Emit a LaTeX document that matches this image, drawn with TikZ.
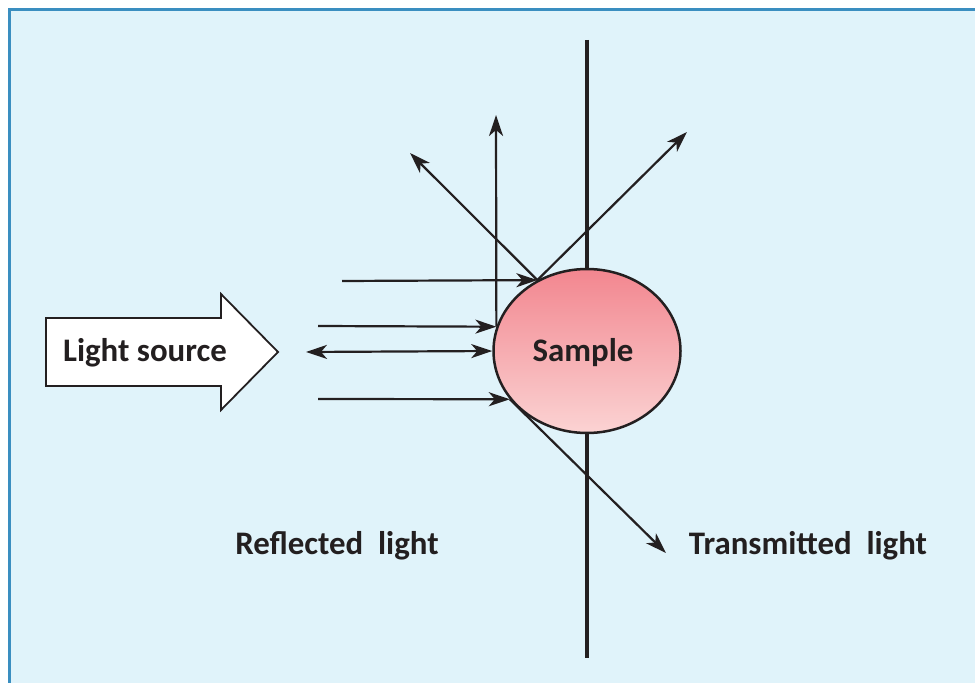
\documentclass[tikz,border=0pt]{standalone}
\usepackage{fontspec}
\setmainfont{Carlito}
\usepackage{tikz}
\usetikzlibrary{shapes.geometric,arrows.meta}

\definecolor{panelblue}{HTML}{E0F3FA}
\definecolor{frameblue}{HTML}{3A8EC0}
\definecolor{inkblack}{HTML}{231F20}
\definecolor{sampletop}{HTML}{F2868F}
\definecolor{samplebottom}{HTML}{FBD3D3}

\tikzset{
    ray/.style={draw=inkblack, line width=2.2bp, -{Stealth[length=21bp,width=14bp,inset=6bp]}},
    caption/.style={text=inkblack, font=\bfseries\fontsize{33}{35}\selectfont, inner sep=0pt},
}

\begin{document}
\begin{tikzpicture}[x=1bp,y=-1bp]
            \useasboundingbox (0,0) rectangle (975,683);
            \fill[white] (0,0) rectangle (975,683);
            \draw[frameblue, fill=panelblue, line width=3bp] (9.5,9.5) rectangle (990,700);

            % sample holder
            \draw[inkblack, line width=4.5bp] (587,40) -- (587,658);
            \node[ellipse, draw=inkblack, line width=2.5bp, minimum width=187bp, minimum height=164bp,
                  top color=sampletop, bottom color=samplebottom] (sample) at (587,351) {};
            \node[caption] (samplename) at (583,353) {Sample};

            % light source
            \draw[inkblack, fill=white, line width=1.8bp]
                (46,318) -- (221,318) -- (221,294) -- (278,352) -- (221,410) -- (221,386) -- (46,386) -- cycle;
            \node[caption] (source) at (145,353) {Light source};

            % rays
            \coordinate (in1) at (342,281);
            \coordinate (in2) at (318,326);
            \coordinate (in3) at (306,352);
            \coordinate (in4) at (318,399);
            \coordinate (back) at (410,153);
            \coordinate (up) at (496,115);
            \coordinate (through) at (687,132);
            \coordinate (out) at (666,553);

            \draw[ray] (in1) -- (sample.125);
            \draw[ray] (in2) -- (sample.165);
            \draw[ray, {Stealth[length=21bp,width=14bp,inset=6bp]}-{Stealth[length=21bp,width=14bp,inset=6bp]}] (in3) -- (sample.180);
            \draw[ray] (in4) -- (sample.212);
            \draw[ray] (sample.125) -- (back);
            \draw[ray] (sample.165) -- (up);
            \draw[ray] (sample.125) -- (through);
            \draw[ray] (sample.212) -- (out);

            \node[caption] (reflected) at (337,546) {Reflected\ \ light};
            \node[caption] (transmitted) at (808,546) {Transmitted\ \ light};
        \end{tikzpicture}
\end{document}
